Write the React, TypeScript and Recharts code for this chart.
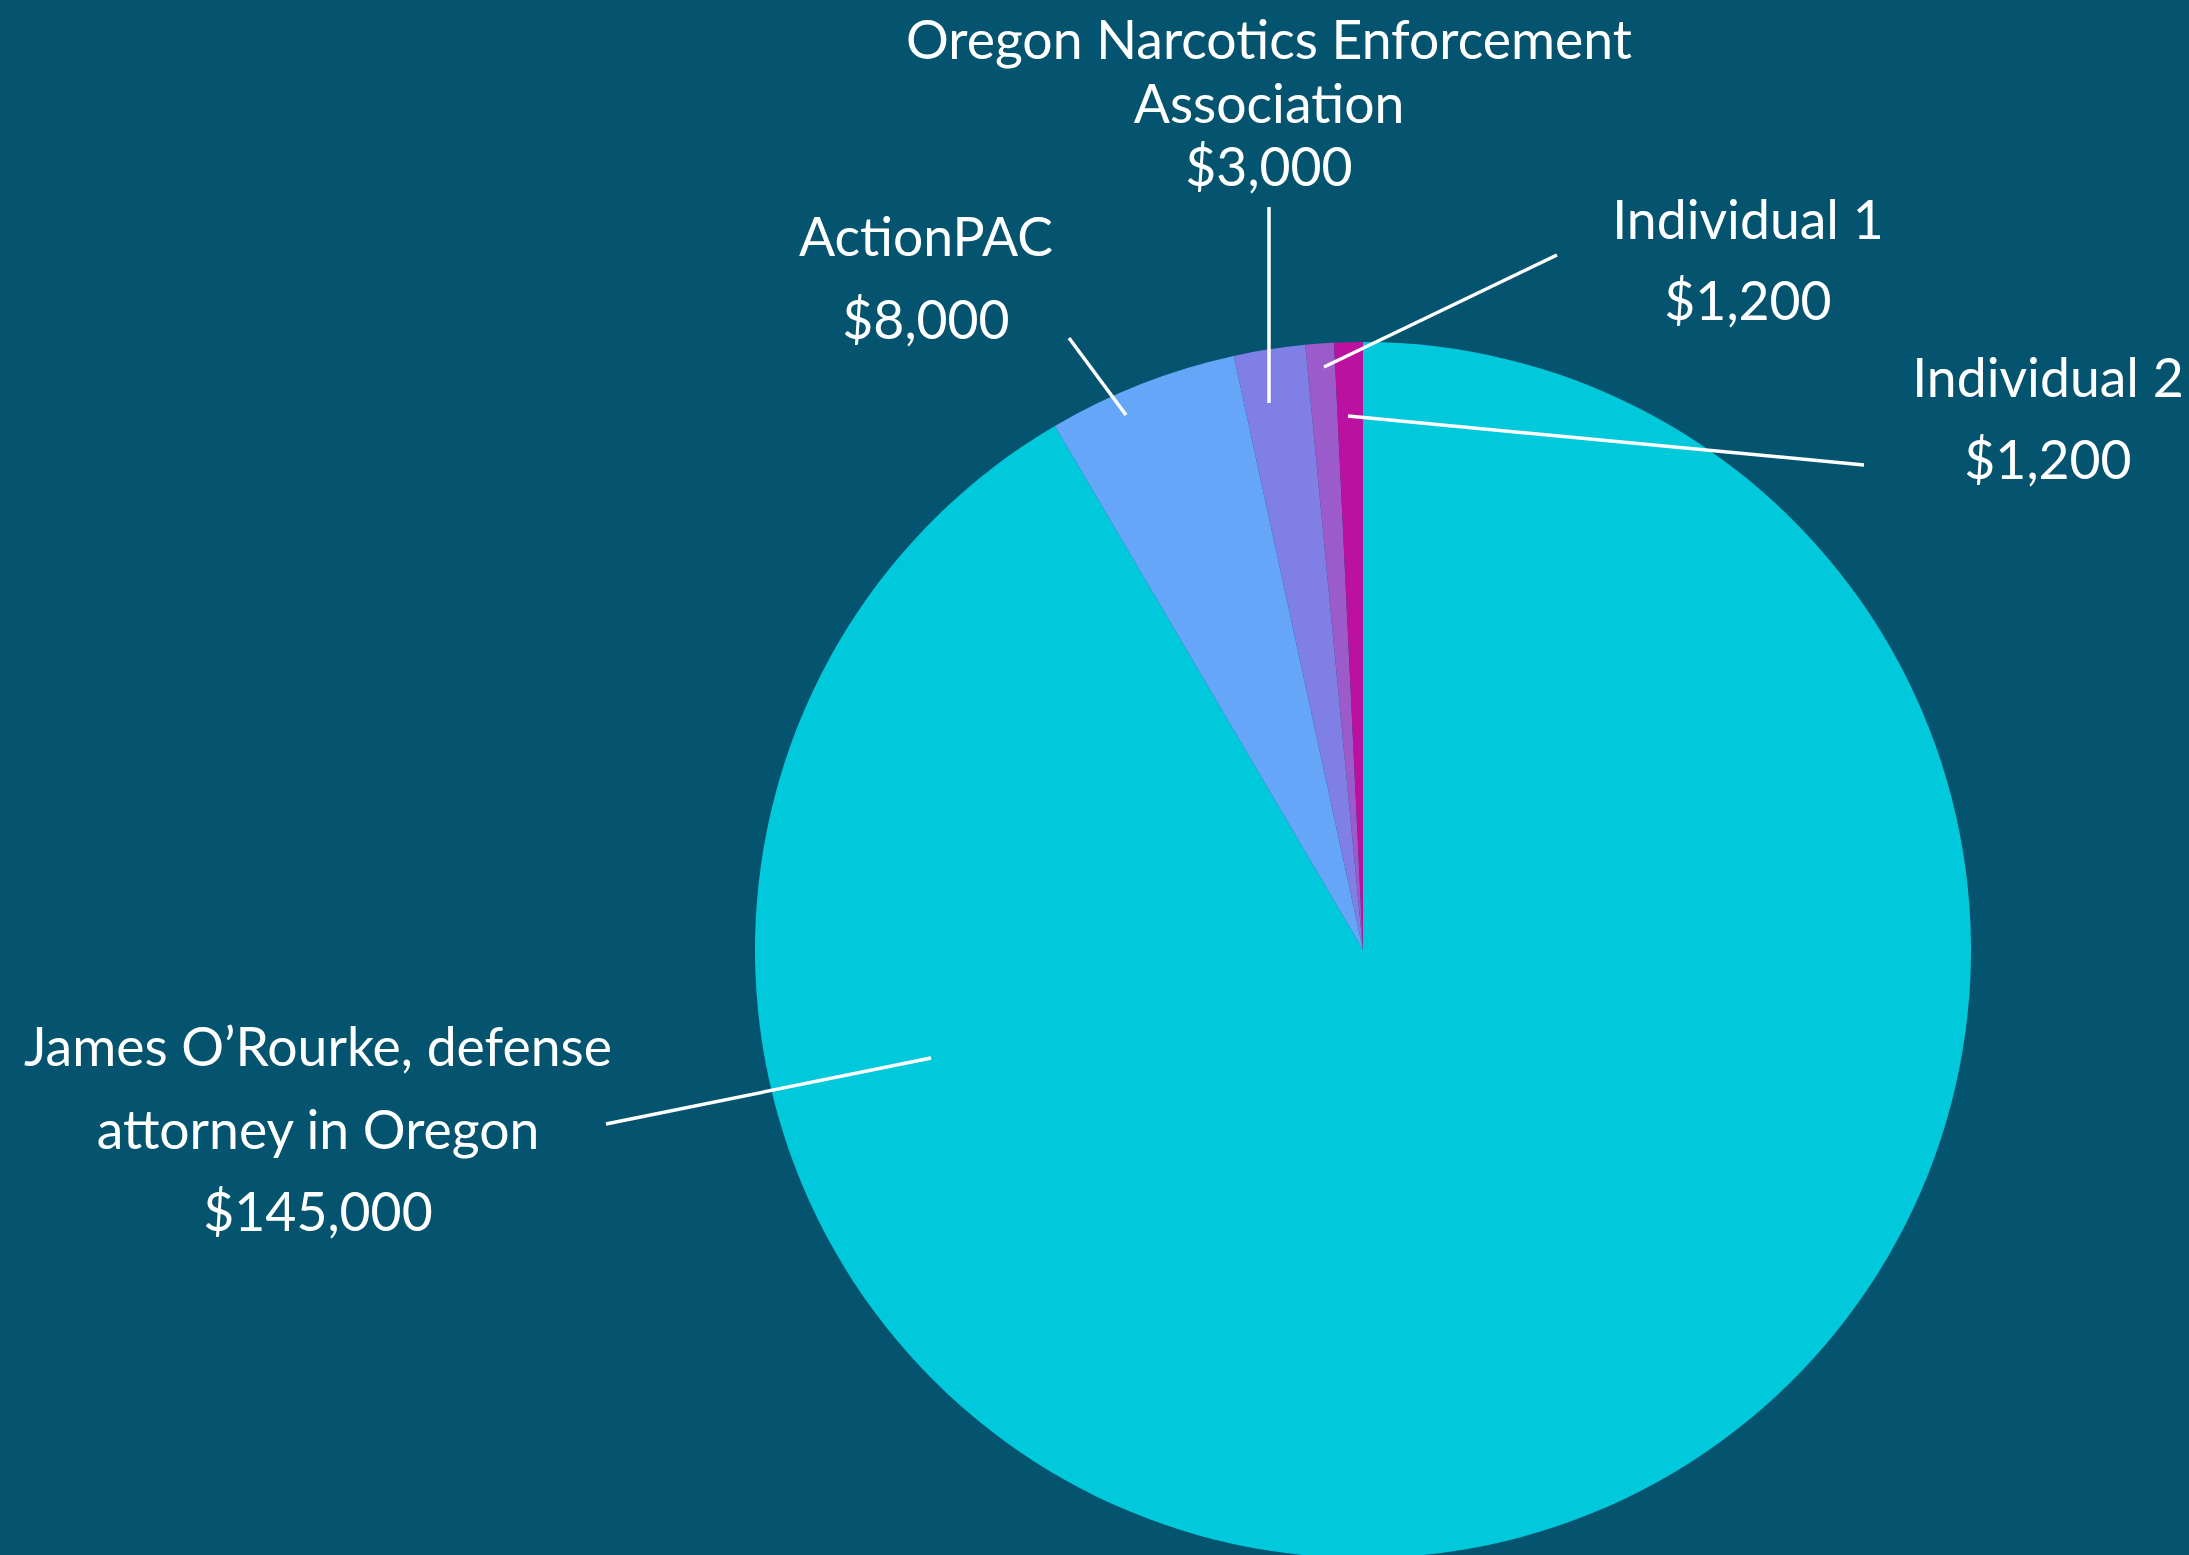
import React from "react";
import { PieChart, Pie, Cell } from "recharts";

const names = [
  "James O’Rourke, defense attorney in Oregon",
  "ActionPAC",
  "Oregon Narcotics Enforcement Association",
  "Individual 1",
  "Individual 2",
];
const amounts = [145000, 8000, 3000, 1200, 1200];
const nameLines = [
  ["James O’Rourke, defense", "attorney in Oregon"],
  ["ActionPAC"],
  ["Oregon Narcotics Enforcement", "Association"],
  ["Individual 1"],
  ["Individual 2"],
];
const colors = ["#00C9DB", "#65A6F8", "#7F7FE5", "#9C5BCB", "#BC10A0"];

// label layout, px relative to pie centre at reference radius 608
const REF_R = 608;
const labelLayout = [
  { tx: -1045, ty: 95, gap: 82.5, from: [-432, 108], to: [-757, 174] },
  { tx: -437, ty: -715, gap: 83, from: [-237, -535], to: [-294, -612] },
  { tx: -94, ty: -912, gap: 63.5, from: [-94, -547], to: [-94, -743] },
  { tx: 385, ty: -732, gap: 81, from: [-39, -583], to: [194, -695] },
  { tx: 685, ty: -574, gap: 82, from: [-15, -534], to: [501, -485] },
];

const data = names.map((n, i) => ({ name: n, value: amounts[i] }));

const fmt = (v: number) => "$" + v.toLocaleString("en-US");

const renderLabel = (props: any) => {
  const { cx, cy, outerRadius, index, value } = props;
  const k = outerRadius / REF_R;
  const L = labelLayout[index];
  const lines = [...nameLines[index], fmt(value)];
  return (
    <g key={"lbl-" + index}>
      <line
        x1={cx + L.from[0] * k}
        y1={cy + L.from[1] * k}
        x2={cx + L.to[0] * k}
        y2={cy + L.to[1] * k}
        stroke="#ffffff"
        strokeWidth={3.5}
      />
      {lines.map((t, j) => (
        <text
          key={j}
          x={cx + L.tx * k}
          y={cy + (L.ty + j * L.gap) * k}
          fill="#ffffff"
          textAnchor="middle"
          dominantBaseline="central"
          fontFamily="Lato, 'Open Sans', sans-serif"
          fontSize={53.5}
        >
          {t}
        </text>
      ))}
    </g>
  );
};

export default function App() {
  return (
    <div
      style={{
        position: "absolute",
        left: 0,
        top: 0,
        width: 2189,
        height: 1555,
        background: "#05546F",
        overflow: "hidden",
      }}
    >
      <PieChart width={2189} height={1555} margin={{ top: 0, right: 0, bottom: 0, left: 0 }}>
        <Pie
          data={data}
          dataKey="value"
          nameKey="name"
          cx={1363}
          cy={950}
          outerRadius={608}
          startAngle={90}
          endAngle={-270}
          stroke="none"
          label={renderLabel}
          labelLine={false}
          isAnimationActive={false}
        >
          {data.map((d, i) => (
            <Cell key={d.name} fill={colors[i]} stroke="none" />
          ))}
        </Pie>
      </PieChart>
    </div>
  );
}
